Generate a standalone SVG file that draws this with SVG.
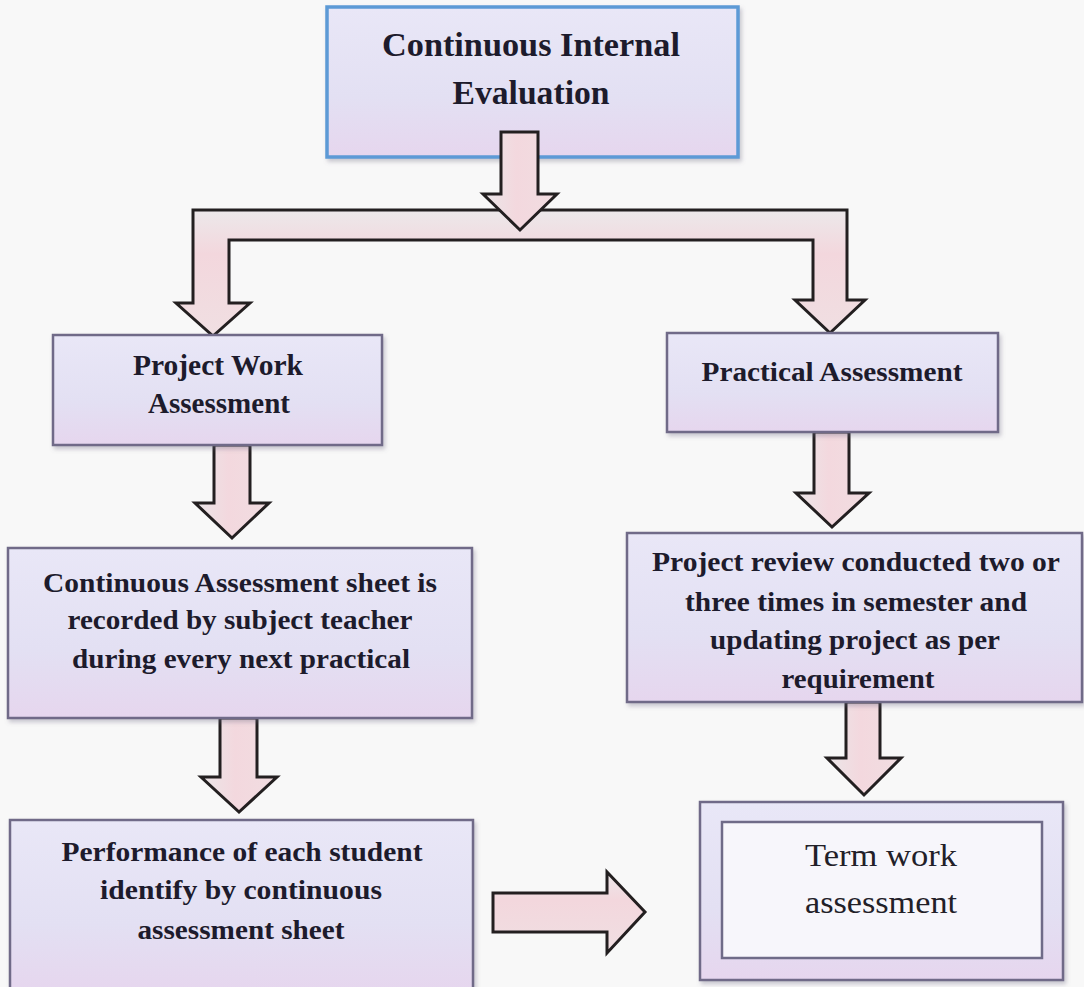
<svg xmlns="http://www.w3.org/2000/svg" width="1084" height="987" viewBox="0 0 1084 987">
  <defs>
    <linearGradient id="boxFill" x1="0" y1="0" x2="0" y2="1">
      <stop offset="0" stop-color="#e9e7f7"/>
      <stop offset="0.6" stop-color="#e3e0f3"/>
      <stop offset="1" stop-color="#e6d6ee"/>
    </linearGradient>
    <linearGradient id="arrowV" x1="0" y1="0" x2="1" y2="0">
      <stop offset="0" stop-color="#ebe6e8"/>
      <stop offset="0.45" stop-color="#f3d8de"/>
      <stop offset="1" stop-color="#f1dde1"/>
    </linearGradient>
    <linearGradient id="arrowH" x1="0" y1="0" x2="0" y2="1">
      <stop offset="0" stop-color="#ece8ea"/>
      <stop offset="0.35" stop-color="#f3d7dd"/>
      <stop offset="1" stop-color="#f0dfe2"/>
    </linearGradient>
    <filter id="shadow" x="-5%" y="-5%" width="112%" height="115%">
      <feDropShadow dx="2" dy="3" stdDeviation="2" flood-color="#6a6680" flood-opacity="0.35"/>
    </filter>
  </defs>
  <style>
    .box { fill: url(#boxFill); stroke: #6f6b88; stroke-width: 2.5; filter: url(#shadow); }
    .topbox { fill: url(#boxFill); stroke: #5d9ad6; stroke-width: 3.5; filter: url(#shadow); }
    .inner { fill: #f7f6fb; stroke: #6f6b88; stroke-width: 2.5; }
    .arrow { fill: url(#arrowV); stroke: #231f20; stroke-width: 3; stroke-linejoin: miter; }
    .harrow { fill: url(#arrowH); stroke: #231f20; stroke-width: 3; stroke-linejoin: miter; }
    .t { font-family: "Liberation Serif", "Times New Roman", serif; font-weight: bold; fill: #1d1b2c; text-anchor: middle; }
    .r { font-family: "Liberation Serif", "Times New Roman", serif; font-weight: normal; fill: #222028; text-anchor: middle; }
  </style>
  <rect x="0" y="0" width="1084" height="987" fill="#f8f8f8"/>

  <g id="node-cie">
    <rect class="topbox" x="327" y="7" width="411" height="150"/>
  </g>

  <g id="connectors">
    <!-- bracket bar with two down arrows -->
    <path class="harrow" d="M193,210 H847 V300 H865 L830,333 L795,300 H813 V240 H229 V303 H250 L213,336 L176,303 H193 Z"/>
    <!-- top arrow into bar -->
    <path class="arrow" d="M501,132 H538 V194 H557 L520,230 L483,194 H501 Z"/>
    <!-- Project Work -> Continuous Assessment sheet -->
    <path class="arrow" d="M214,445 H250 V503 H269 L232,538 L195,503 H214 Z"/>
    <!-- Continuous Assessment sheet -> Performance -->
    <path class="arrow" d="M220,718 H257 V777 H277 L239,812 L201,777 H220 Z"/>
    <!-- Practical -> Project review -->
    <path class="arrow" d="M814,432 H849 V493 H869 L832,527 L796,493 H814 Z"/>
    <!-- Project review -> Term work -->
    <path class="arrow" d="M846,702 H880 V758 H901 L864,795 L827,758 H846 Z"/>
    <!-- Performance -> Term work -->
    <path class="harrow" d="M493,893 H607 V872 L645,912 L607,953 V932 H493 Z"/>
  </g>

  <g id="node-cie-text">
    <text class="t" x="531" y="56" font-size="33" textLength="298" lengthAdjust="spacingAndGlyphs">Continuous Internal</text>
    <text class="t" x="531" y="104" font-size="33" textLength="157" lengthAdjust="spacingAndGlyphs">Evaluation</text>
  </g>

  <g id="node-project-work">
    <rect class="box" x="53" y="335" width="329" height="110"/>
    <text class="t" x="218" y="375" font-size="29" textLength="170" lengthAdjust="spacingAndGlyphs">Project Work</text>
    <text class="t" x="219" y="413" font-size="29" textLength="142" lengthAdjust="spacingAndGlyphs">Assessment</text>
  </g>

  <g id="node-practical">
    <rect class="box" x="667" y="333" width="331" height="99"/>
    <text class="t" x="832" y="381" font-size="28" textLength="261" lengthAdjust="spacingAndGlyphs">Practical Assessment</text>
  </g>

  <g id="node-continuous-sheet">
    <rect class="box" x="8" y="548" width="464" height="170"/>
    <text class="t" x="240" y="592" font-size="28" textLength="394" lengthAdjust="spacingAndGlyphs">Continuous Assessment sheet is</text>
    <text class="t" x="240" y="629" font-size="28" textLength="345" lengthAdjust="spacingAndGlyphs">recorded by subject teacher</text>
    <text class="t" x="241" y="668" font-size="28" textLength="338" lengthAdjust="spacingAndGlyphs">during every next practical</text>
  </g>

  <g id="node-project-review">
    <rect class="box" x="627" y="533" width="455" height="169"/>
    <text class="t" x="856" y="571" font-size="27" textLength="408" lengthAdjust="spacingAndGlyphs">Project review conducted two or</text>
    <text class="t" x="856" y="611" font-size="27" textLength="342" lengthAdjust="spacingAndGlyphs">three times in semester and</text>
    <text class="t" x="855" y="649" font-size="27" textLength="290" lengthAdjust="spacingAndGlyphs">updating project as per</text>
    <text class="t" x="858" y="688" font-size="27" textLength="153" lengthAdjust="spacingAndGlyphs">requirement</text>
  </g>

  <g id="node-performance">
    <rect class="box" x="10" y="820" width="463" height="172"/>
    <text class="t" x="242" y="861" font-size="28" textLength="361" lengthAdjust="spacingAndGlyphs">Performance of each student</text>
    <text class="t" x="241" y="899" font-size="28" textLength="282" lengthAdjust="spacingAndGlyphs">identify by continuous</text>
    <text class="t" x="241" y="939" font-size="28" textLength="207" lengthAdjust="spacingAndGlyphs">assessment sheet</text>
  </g>

  <g id="node-term-work">
    <rect class="box" x="700" y="802" width="363" height="178"/>
    <rect class="inner" x="722" y="822" width="320" height="136"/>
    <text class="r" x="881" y="866" font-size="32" textLength="152" lengthAdjust="spacingAndGlyphs">Term work</text>
    <text class="r" x="881" y="913" font-size="32" textLength="152" lengthAdjust="spacingAndGlyphs">assessment</text>
  </g>
</svg>
